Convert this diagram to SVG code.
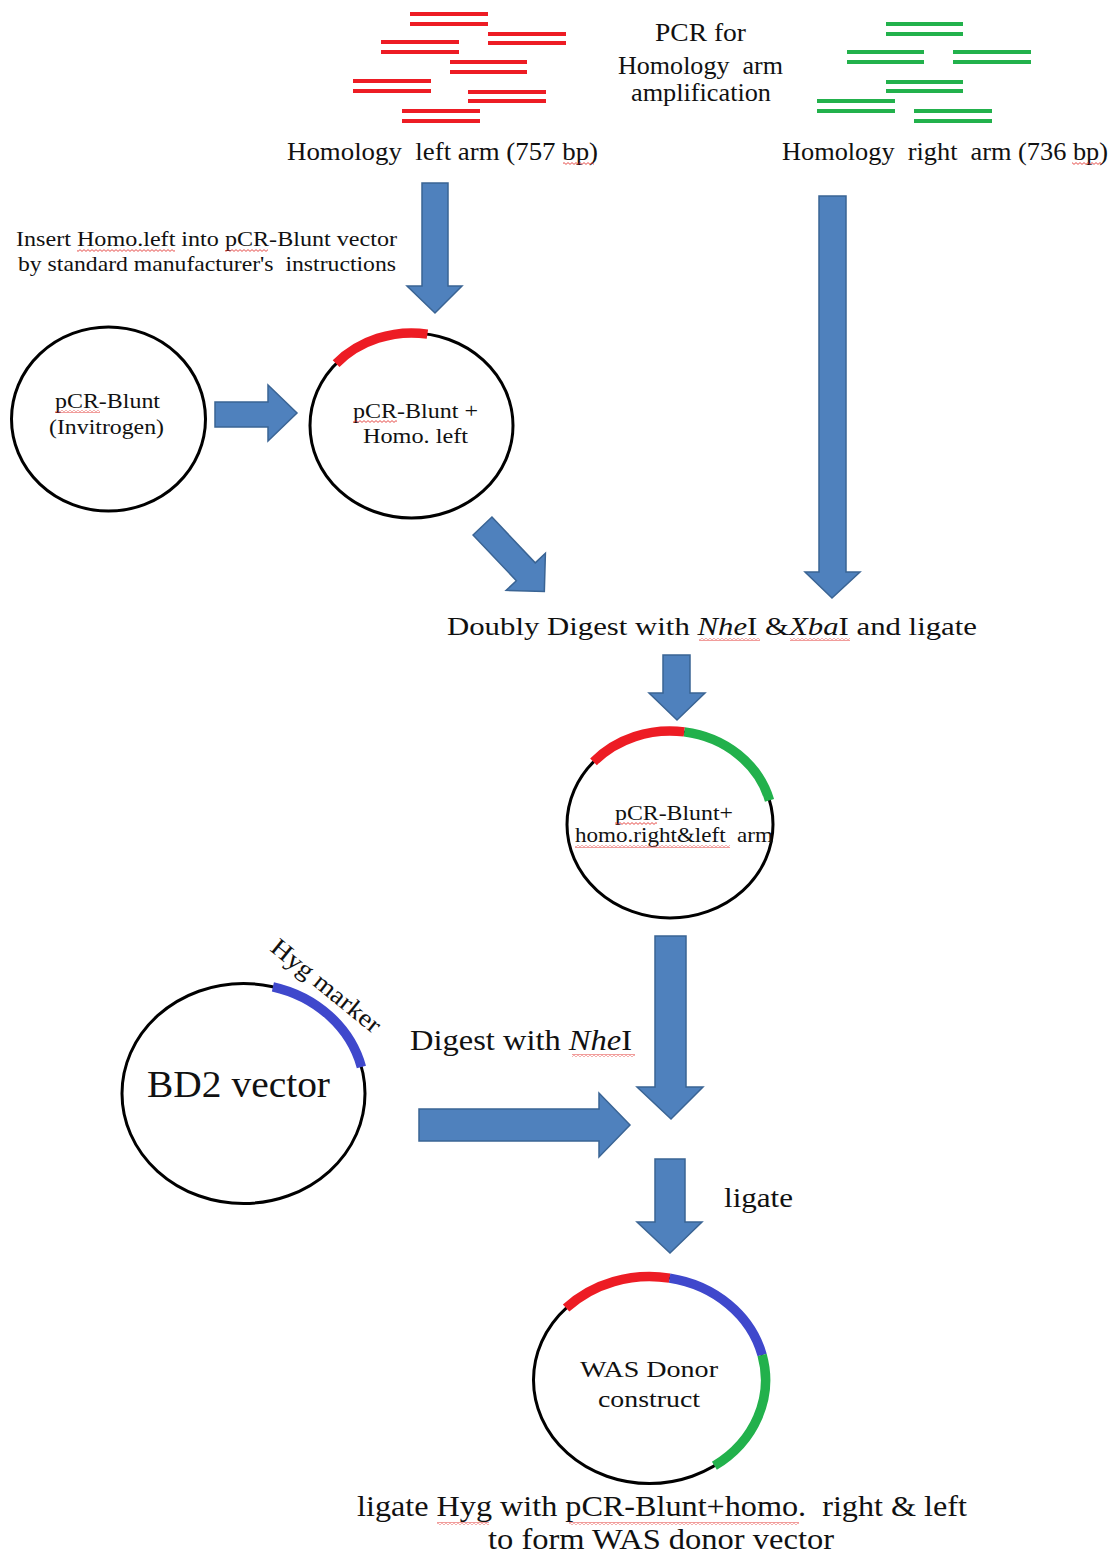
<svg xmlns="http://www.w3.org/2000/svg" width="1119" height="1558" viewBox="0 0 1119 1558">
<defs>
<style>
text{font-family:"Liberation Serif","Times New Roman",serif;fill:#111;white-space:pre}
.arrow{fill:#4f81bd;stroke:#3a6494;stroke-width:1.5;stroke-linejoin:miter}
.ring{fill:#fff;stroke:#000;stroke-width:3}
.red{stroke:#ed1c24;stroke-width:4}
.grn{stroke:#22b14c;stroke-width:4}
.arc{fill:none;stroke-width:9.5;stroke-linecap:butt}
.sq{fill:url(#squig)}
</style>
<pattern id="squig" width="4" height="3" patternUnits="userSpaceOnUse">
<path d="M0,0.6 L2,2.4 L4,0.6" fill="none" stroke="#e0201c" stroke-width="0.8"/>
</pattern>
</defs>
<rect width="1119" height="1558" fill="#fff"/>

<g id="left-arm-fragments">
<line class="red" x1="410" y1="14" x2="488" y2="14"/><line class="red" x1="410" y1="24" x2="488" y2="24"/>
<line class="red" x1="488" y1="34" x2="566" y2="34"/><line class="red" x1="488" y1="43" x2="566" y2="43"/>
<line class="red" x1="381" y1="42" x2="459" y2="42"/><line class="red" x1="381" y1="52" x2="459" y2="52"/>
<line class="red" x1="450" y1="62" x2="527" y2="62"/><line class="red" x1="450" y1="72" x2="527" y2="72"/>
<line class="red" x1="353" y1="81" x2="431" y2="81"/><line class="red" x1="353" y1="91" x2="431" y2="91"/>
<line class="red" x1="468" y1="92" x2="546" y2="92"/><line class="red" x1="468" y1="101" x2="546" y2="101"/>
<line class="red" x1="402" y1="111" x2="480" y2="111"/><line class="red" x1="402" y1="121" x2="480" y2="121"/>
<text x="287" y="160" font-size="25" textLength="311" lengthAdjust="spacingAndGlyphs">Homology  left arm (757 bp)</text>
<rect class="sq" x="563" y="162" width="31" height="3"/>
</g>

<g id="pcr-label">
<text x="655" y="41" font-size="25" textLength="91" lengthAdjust="spacingAndGlyphs">PCR for</text>
<text x="618" y="74" font-size="25" textLength="165" lengthAdjust="spacingAndGlyphs">Homology  arm</text>
<text x="631" y="101" font-size="25" textLength="140" lengthAdjust="spacingAndGlyphs">amplification</text>
</g>

<g id="right-arm-fragments">
<line class="grn" x1="886" y1="24" x2="963" y2="24"/><line class="grn" x1="886" y1="34" x2="963" y2="34"/>
<line class="grn" x1="847" y1="52" x2="924" y2="52"/><line class="grn" x1="847" y1="62" x2="924" y2="62"/>
<line class="grn" x1="953" y1="52" x2="1031" y2="52"/><line class="grn" x1="953" y1="62" x2="1031" y2="62"/>
<line class="grn" x1="886" y1="82" x2="963" y2="82"/><line class="grn" x1="886" y1="91" x2="963" y2="91"/>
<line class="grn" x1="817" y1="101" x2="895" y2="101"/><line class="grn" x1="817" y1="111" x2="895" y2="111"/>
<line class="grn" x1="914" y1="111" x2="992" y2="111"/><line class="grn" x1="914" y1="121" x2="992" y2="121"/>
<text x="782" y="160" font-size="25" textLength="326" lengthAdjust="spacingAndGlyphs">Homology  right  arm (736 bp)</text>
<rect class="sq" x="1072" y="162" width="30" height="3"/>
</g>

<g id="insert-label">
<text x="16" y="246" font-size="22" textLength="381" lengthAdjust="spacingAndGlyphs">Insert Homo.left into pCR-Blunt vector</text>
<text x="18" y="271" font-size="22" textLength="378" lengthAdjust="spacingAndGlyphs">by standard manufacturer's  instructions</text>
<rect class="sq" x="77" y="249" width="98" height="3"/>
<rect class="sq" x="225" y="249" width="43" height="3"/>
</g>

<g id="pcr-blunt">
<ellipse class="ring" cx="108.5" cy="419" rx="97" ry="92"/>
<text x="55" y="408" font-size="21" textLength="105" lengthAdjust="spacingAndGlyphs">pCR-Blunt</text>
<text x="49" y="434" font-size="21" textLength="115" lengthAdjust="spacingAndGlyphs">(Invitrogen)</text>
<rect class="sq" x="55" y="410" width="45" height="3"/>
</g>

<g id="pcr-blunt-homo-left">
<ellipse class="ring" cx="411.5" cy="425.5" rx="101.5" ry="92.5"/>
<path class="arc" stroke="#ed1c24" d="M336.1,363.6 A101.5,92.5 0 0 1 427.4,334.1"/>
<text x="353" y="418" font-size="21" textLength="125" lengthAdjust="spacingAndGlyphs">pCR-Blunt +</text>
<text x="363" y="443" font-size="21" textLength="105" lengthAdjust="spacingAndGlyphs">Homo. left</text>
<rect class="sq" x="353" y="420" width="44" height="3"/>
</g>

<g id="digest-label">
<text x="447" y="635" font-size="26" textLength="530" lengthAdjust="spacingAndGlyphs">Doubly Digest with <tspan font-style="italic">Nhe</tspan>I &amp;<tspan font-style="italic">Xba</tspan>I and ligate</text>
<rect class="sq" x="699" y="638" width="61" height="3"/>
<rect class="sq" x="790" y="638" width="60" height="3"/>
</g>

<g id="pcr-blunt-homo-both">
<ellipse class="ring" cx="670" cy="824.5" rx="103" ry="93.5"/>
<path class="arc" stroke="#ed1c24" d="M593.5,761.9 A103,93.5 0 0 1 684.3,731.9"/>
<path class="arc" stroke="#22b14c" d="M684.3,731.9 A103,93.5 0 0 1 769.5,800.3"/>
<text x="615" y="820" font-size="21" textLength="118" lengthAdjust="spacingAndGlyphs">pCR-Blunt+</text>
<text x="575" y="842" font-size="21" textLength="198" lengthAdjust="spacingAndGlyphs">homo.right&amp;left  arm</text>
<rect class="sq" x="615" y="822" width="42" height="3"/>
<rect class="sq" x="575" y="845" width="155" height="3"/>
</g>

<g id="bd2-vector">
<ellipse class="ring" cx="243.5" cy="1093.5" rx="121.5" ry="110"/>
<path class="arc" stroke="#3f48cc" d="M272.9,986.8 A121.5,110 0 0 1 361.4,1066.9"/>
<text x="147" y="1097" font-size="38" textLength="183" lengthAdjust="spacingAndGlyphs">BD2 vector</text>
<text transform="translate(269,950) rotate(39)" font-size="25" textLength="134" lengthAdjust="spacingAndGlyphs">Hyg marker</text>
</g>

<g id="digest-nhe-label">
<text x="410" y="1050" font-size="29" textLength="222" lengthAdjust="spacingAndGlyphs">Digest with <tspan font-style="italic">Nhe</tspan>I</text>
<rect class="sq" x="572" y="1054" width="63" height="3"/>
</g>

<g id="ligate-label">
<text x="724" y="1207" font-size="28" textLength="69" lengthAdjust="spacingAndGlyphs">ligate</text>
</g>

<g id="was-donor">
<ellipse class="ring" cx="649.5" cy="1380" rx="116" ry="103.5"/>
<path class="arc" stroke="#ed1c24" d="M566.1,1308.1 A116,103.5 0 0 1 669.6,1278.1"/>
<path class="arc" stroke="#3f48cc" d="M669.6,1278.1 A116,103.5 0 0 1 762.1,1355"/>
<path class="arc" stroke="#22b14c" d="M762.1,1355 A116,103.5 0 0 1 714.4,1465.8"/>
<text x="580" y="1377" font-size="24" textLength="138" lengthAdjust="spacingAndGlyphs">WAS Donor</text>
<text x="598" y="1407" font-size="24" textLength="102" lengthAdjust="spacingAndGlyphs">construct</text>
</g>

<g id="final-label">
<text x="357" y="1516" font-size="29" textLength="610" lengthAdjust="spacingAndGlyphs">ligate Hyg with pCR-Blunt+homo.  right &amp; left</text>
<text x="488" y="1549" font-size="29" textLength="346" lengthAdjust="spacingAndGlyphs">to form WAS donor vector</text>
<rect class="sq" x="437" y="1522" width="52" height="3"/>
<rect class="sq" x="569" y="1522" width="230" height="3"/>
</g>

<g id="connectors">
<polygon class="arrow" points="422,183 448,183 448,286 462,286 435,313 407,286 422,286"/>
<polygon class="arrow" points="215,402 268,402 268,385 297,413 268,441 268,427 215,427"/>
<polygon class="arrow" transform="translate(482.5,526) rotate(46.6)" points="0,-13 63,-13 63,-27 90,0 63,27 63,13 0,13"/>
<polygon class="arrow" points="819,196 846,196 846,572 860,572 832,598 805,572 819,572"/>
<polygon class="arrow" points="663,655 690,655 690,693 705,693 677,720 649,693 663,693"/>
<polygon class="arrow" points="655,936 686,936 686,1087 703,1087 671,1119 637,1087 655,1087"/>
<polygon class="arrow" points="419,1109 599,1109 599,1093 630,1125 599,1157 599,1141 419,1141"/>
<polygon class="arrow" points="655,1159 685,1159 685,1222 702,1222 670,1253 637,1222 655,1222"/>
</g>
</svg>
